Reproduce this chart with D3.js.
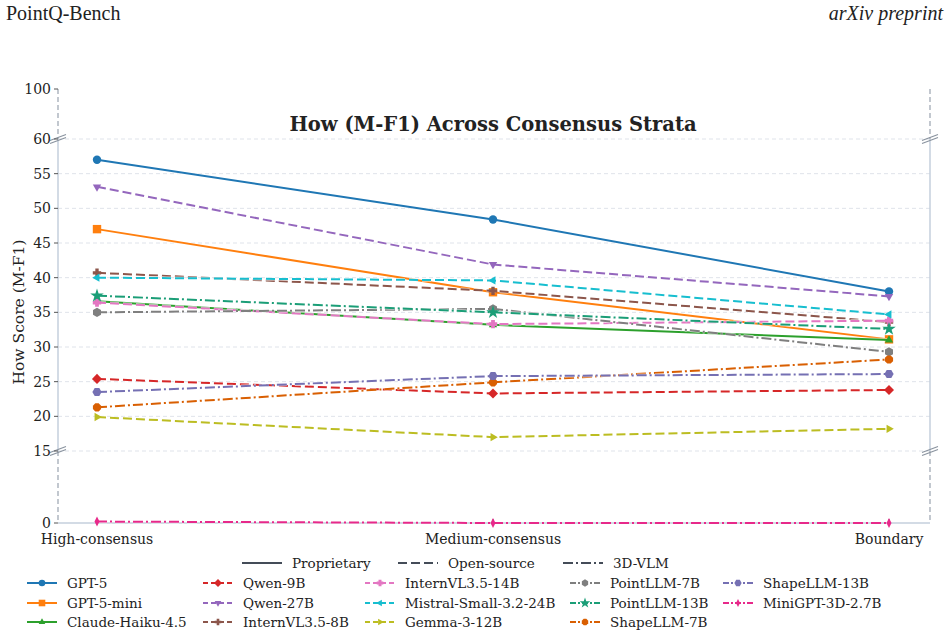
<!DOCTYPE html>
<html>
<head>
<meta charset="utf-8">
<script src="https://cdn.jsdelivr.net/npm/d3@7"></script>
<style>
  body { margin: 0; background: #fff; }
  text { font-family: "DejaVu Serif", serif; fill: #222; }
</style>
</head>
<body>
<div id="chart"></div>
<script>
const strata = ["High-consensus", "Medium-consensus", "Boundary"];
const yTicks = [0, 15, 20, 25, 30, 35, 40, 45, 50, 55, 60, 100];
const gridTicks = [15, 20, 25, 30, 35, 40, 45, 50, 55, 60];

const modelNames = ["GPT-5", "GPT-5-mini", "Claude-Haiku-4.5", "Qwen-9B", "Qwen-27B", "InternVL3.5-8B",
  "InternVL3.5-14B", "Mistral-Small-3.2-24B", "Gemma-3-12B", "PointLLM-7B", "PointLLM-13B", "ShapeLLM-7B",
  "ShapeLLM-13B", "MiniGPT-3D-2.7B"];
const modelGroups = ["prop", "prop", "prop", "open", "open", "open", "open", "open", "open",
  "vlm", "vlm", "vlm", "vlm", "vlm"];
const modelColors = ["#1f77b4", "#ff7f0e", "#2ca02c", "#d62728", "#9467bd", "#8c564b", "#e377c2",
  "#17becf", "#bcbd22", "#7f7f7f", "#1b9e77", "#d95f02", "#7570b3", "#e7298a"];
const modelMarkers = ["circle", "square", "triUp", "diamond", "triDown", "plus", "x", "triLeft",
  "triRight", "hexagon", "star", "octagon", "hexagon2", "thinDiamond"];

// scores per stratum (high, medium, boundary)
const gpt5 = [57.0, 48.4, 38.0];
const gpt5mini = [47.0, 37.9, 31.1];
const claudeHaiku = [36.6, 33.2, 31.0];
const qwen9b = [25.4, 23.3, 23.8];
const qwen27b = [53.1, 41.9, 37.3];
const internvl8b = [40.7, 38.1, 33.6];
const internvl14b = [36.4, 33.3, 33.8];
const mistral = [40.0, 39.6, 34.7];
const gemma = [19.9, 17.0, 18.2];
const pointllm7b = [35.0, 35.5, 29.3];
const pointllm13b = [37.4, 35.0, 32.6];
const shapellm7b = [21.3, 24.9, 28.2];
const shapellm13b = [23.5, 25.8, 26.1];
const minigpt = [0.3, 0.0, 0.0];

const seriesValues = [gpt5, gpt5mini, claudeHaiku, qwen9b, qwen27b, internvl8b, internvl14b, mistral,
  gemma, pointllm7b, pointllm13b, shapellm7b, shapellm13b, minigpt];

const groupNames = ["Proprietary", "Open-source", "3D-VLM"];
const groupKeys = ["prop", "open", "vlm"];
const dashes = { prop: null, open: "9,4", vlm: "10,3,2,3" };

const W = 949, H = 636;
const left = 58, right = 930;

const svg = d3.select("#chart").append("svg").attr("width", W).attr("height", H);

svg.append("text").attr("x", 6).attr("y", 20)
  .style("font-family", "'Liberation Serif', serif").style("font-size", "20px")
  .text("PointQ-Bench");
svg.append("text").attr("x", 943).attr("y", 20).attr("text-anchor", "end")
  .style("font-family", "'Liberation Serif', serif").style("font-size", "20px").style("font-style", "italic")
  .text("arXiv preprint");

const x = d3.scalePoint().domain(strata).range([97, 889]);
// broken axis: three linear pieces
const y = d3.scaleLinear().domain([0, 15, 60, 100]).range([523, 451, 139, 89]);

// grid
svg.append("g").selectAll("line").data(gridTicks).join("line")
  .attr("x1", left).attr("x2", right)
  .attr("y1", d => y(d)).attr("y2", d => y(d))
  .attr("stroke", "#dfe3ea").attr("stroke-dasharray", "4,3").attr("stroke-width", 1);

// axis lines
const axisSolid = "#c5cfdc", axisDash = "#9aa3b0";
[left, right].forEach(ax => {
  svg.append("line").attr("x1", ax).attr("x2", ax).attr("y1", y(60)).attr("y2", y(15))
    .attr("stroke", axisSolid).attr("stroke-width", 1.5);
  svg.append("line").attr("x1", ax).attr("x2", ax).attr("y1", y(100)).attr("y2", y(60))
    .attr("stroke", axisDash).attr("stroke-width", 1.2).attr("stroke-dasharray", "5,3");
  svg.append("line").attr("x1", ax).attr("x2", ax).attr("y1", y(15)).attr("y2", y(0))
    .attr("stroke", axisDash).attr("stroke-width", 1.2).attr("stroke-dasharray", "5,3");
  [60, 15].forEach(v => {
    [-1.5, 1.5].forEach(off => {
      svg.append("line").attr("x1", ax - 8).attr("x2", ax + 8)
        .attr("y1", y(v) + 3 + off).attr("y2", y(v) - 3 + off)
        .attr("stroke", "#8a939f").attr("stroke-width", 1.2);
    });
  });
});
svg.append("line").attr("x1", left).attr("x2", right).attr("y1", y(0)).attr("y2", y(0))
  .attr("stroke", axisSolid).attr("stroke-width", 1.5);

// y ticks
const yt = svg.append("g").selectAll("g").data(yTicks).join("g")
  .attr("transform", d => `translate(${left},${y(d)})`);
yt.append("line").attr("x1", -4).attr("x2", 0).attr("stroke", "#555");
yt.append("text").attr("x", -7).attr("dy", "0.35em").attr("text-anchor", "end")
  .style("font-size", "14px").text(d => d);

// x ticks
const xt = svg.append("g").selectAll("g").data(strata).join("g")
  .attr("transform", d => `translate(${x(d)},${y(0)})`);
xt.append("line").attr("y1", 0).attr("y2", -4).attr("stroke", "#555");
xt.append("text").attr("y", 21).attr("text-anchor", "middle")
  .style("font-size", "14px").text(d => d);

// labels
svg.append("text").attr("x", 493).attr("y", 131).attr("text-anchor", "middle")
  .style("font-size", "19.5px").style("font-weight", "bold")
  .text("How (M-F1) Across Consensus Strata");
svg.append("text").attr("transform", "translate(24,312) rotate(-90)").attr("text-anchor", "middle")
  .style("font-size", "15.5px").text("How Score (M-F1)");

// marker path builder
function poly(n, r, rot) {
  const pts = d3.range(n).map(i => {
    const a = rot + i * 2 * Math.PI / n;
    return [r * Math.cos(a), r * Math.sin(a)];
  });
  return "M" + pts.join("L") + "Z";
}
function markerPath(kind, s) {
  const r = s;
  switch (kind) {
    case "circle": return d3.symbol(d3.symbolCircle, Math.PI * r * r)();
    case "square": return `M${-r},${-r}H${r}V${r}H${-r}Z`;
    case "triUp": return poly(3, r * 1.15, -Math.PI / 2);
    case "triDown": return poly(3, r * 1.15, Math.PI / 2);
    case "triLeft": return poly(3, r * 1.15, Math.PI);
    case "triRight": return poly(3, r * 1.15, 0);
    case "diamond": return poly(4, r * 1.2, 0);
    case "thinDiamond": return `M0,${-r * 1.2}L${r * 0.6},0L0,${r * 1.2}L${-r * 0.6},0Z`;
    case "plus": { const a = r, b = r * 0.4;
      return `M${-b},${-a}H${b}V${-b}H${a}V${b}H${b}V${a}H${-b}V${b}H${-a}V${-b}H${-b}Z`; }
    case "x": { const a = r, b = r * 0.45;
      return `M${-b},${-a}H${b}V${-b}H${a}V${b}H${b}V${a}H${-b}V${b}H${-a}V${-b}H${-b}Z`; }
    case "hexagon": return poly(6, r * 1.1, -Math.PI / 2);
    case "hexagon2": return poly(6, r * 1.1, 0);
    case "octagon": return poly(8, r * 1.05, Math.PI / 8);
    case "star": return d3.symbol(d3.symbolStar, r * r * 3.2)();
  }
}

// series
const line = d3.line().x((d, i) => x(strata[i])).y(d => y(d));
modelNames.forEach((name, k) => {
  const g = svg.append("g");
  const vals = seriesValues[k];
  const color = modelColors[k];
  g.append("path").datum(vals).attr("d", line)
    .attr("fill", "none").attr("stroke", "#fff").attr("stroke-width", 3.6).attr("stroke-opacity", 0.6)
    .attr("stroke-dasharray", dashes[modelGroups[k]]);
  g.append("path").datum(vals).attr("d", line)
    .attr("fill", "none").attr("stroke", color).attr("stroke-width", 2)
    .attr("stroke-dasharray", dashes[modelGroups[k]]);
  g.selectAll(".m").data(vals).join("path")
    .attr("transform", (d, i) => `translate(${x(strata[i])},${y(d)})`)
    .attr("d", markerPath(modelMarkers[k], 4.2))
    .attr("fill", color);
});

// legend: group styles
const lg = svg.append("g");
const groupX = [242, 398, 563];
groupNames.forEach((gname, i) => {
  lg.append("line").attr("x1", groupX[i]).attr("x2", groupX[i] + 40).attr("y1", 563).attr("y2", 563)
    .attr("stroke", "#444c58").attr("stroke-width", 2.2).attr("stroke-dasharray", dashes[groupKeys[i]]);
  lg.append("text").attr("x", groupX[i] + 50).attr("y", 563).attr("dy", "0.35em")
    .style("font-size", "13.5px").text(gname);
});

// legend: models, column-major with 3 rows
const colX = [27, 203, 365, 570, 723];
const rowY = [583, 603, 622];
modelNames.forEach((name, k) => {
  const cx = colX[Math.floor(k / 3)], cy = rowY[k % 3];
  const e = lg.append("g").attr("transform", `translate(${cx},${cy})`);
  e.append("line").attr("x1", 0).attr("x2", 30)
    .attr("stroke", modelColors[k]).attr("stroke-width", 2)
    .attr("stroke-dasharray", dashes[modelGroups[k]] ? (modelGroups[k] === "open" ? "5,3" : "6,2,2,2") : null);
  e.append("path").attr("transform", "translate(15,0)")
    .attr("d", markerPath(modelMarkers[k], 3.3)).attr("fill", modelColors[k]);
  e.append("text").attr("x", 40).attr("dy", "0.35em").style("font-size", "13.5px").text(name);
});
</script>
</body>
</html>
